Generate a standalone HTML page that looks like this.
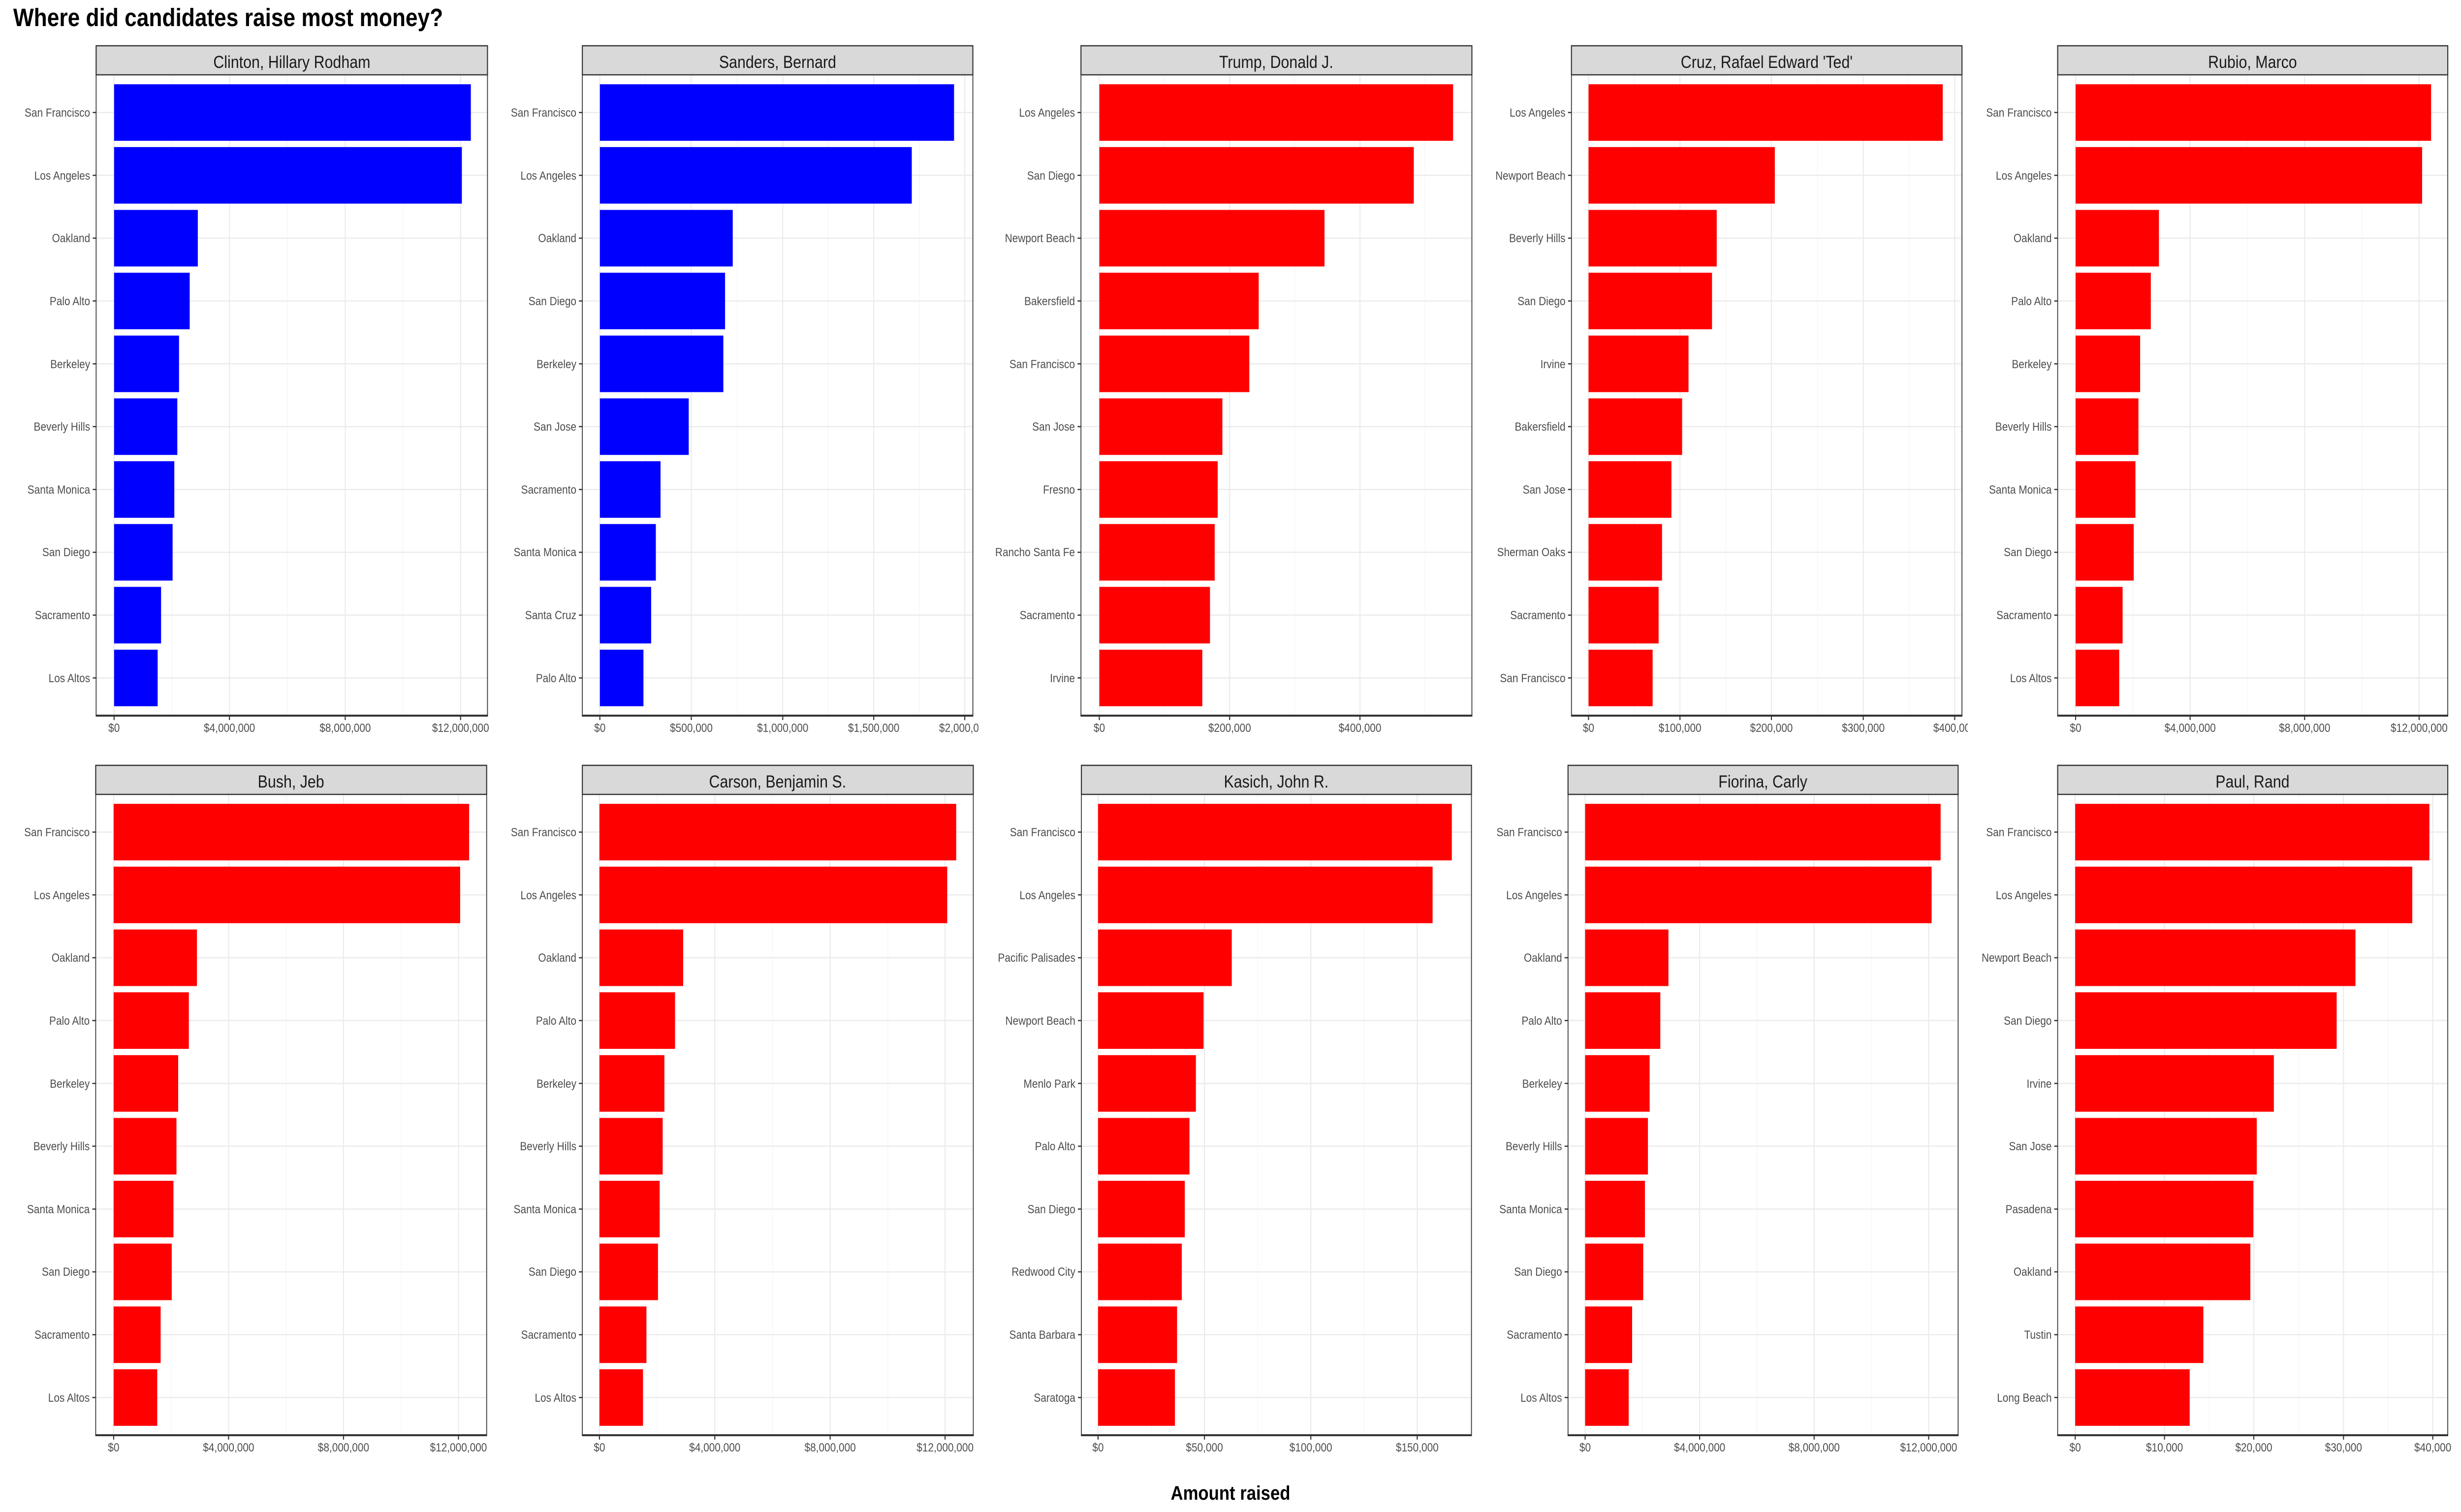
<!DOCTYPE html>
<html><head><meta charset="utf-8"><style>
html,body{margin:0;padding:0;background:#fff;overflow:hidden;width:100%;height:100%}
svg{display:block;width:100vw;height:100vh}
text{font-family:"Liberation Sans",Arial,sans-serif}
.yl{font-size:24px;fill:#4d4d4d;text-anchor:end}
.xl{font-size:24px;fill:#4d4d4d;text-anchor:middle}
.st{font-size:35px;fill:#1a1a1a;text-anchor:middle}
.gM{stroke:#ebebeb;stroke-width:2.5}
.gm{stroke:#f3f3f3;stroke-width:1.3}
.tk{stroke:#333;stroke-width:2.5}
.b{fill:#0000ff}.r{fill:#ff0000}
.strip{fill:#d9d9d9;stroke:#333;stroke-width:2.5}
.pb{fill:none;stroke:#333;stroke-width:2}
</style></head><body>
<svg viewBox="0 0 5760 3072" preserveAspectRatio="none" xmlns="http://www.w3.org/2000/svg">
<defs>
<clipPath id="cS"><rect x="1300" y="0" width="990" height="3072"/></clipPath>
<clipPath id="cC"><rect x="3600" y="0" width="1006" height="3072"/></clipPath>
</defs>
<text x="31" y="53" style="font-size:51px;font-weight:bold" fill="#000">Where did candidates raise most money?</text>
<text x="2880" y="3047" style="font-size:40px;font-weight:bold;text-anchor:middle" fill="#000">Amount raised</text>

<g>
<!-- Clinton -->
<g>
<line class="gm" x1="402" y1="152" x2="402" y2="1454"/><line class="gm" x1="672" y1="152" x2="672" y2="1454"/><line class="gm" x1="943" y1="152" x2="943" y2="1454"/>
<line class="gM" x1="267" y1="152" x2="267" y2="1454"/><line class="gM" x1="537" y1="152" x2="537" y2="1454"/><line class="gM" x1="808" y1="152" x2="808" y2="1454"/><line class="gM" x1="1078" y1="152" x2="1078" y2="1454"/>
<g class="gM"><line x1="225" x2="1141" y1="228.6" y2="228.6"/><line x1="225" x2="1141" y1="356.2" y2="356.2"/><line x1="225" x2="1141" y1="483.9" y2="483.9"/><line x1="225" x2="1141" y1="611.5" y2="611.5"/><line x1="225" x2="1141" y1="739.2" y2="739.2"/><line x1="225" x2="1141" y1="866.8" y2="866.8"/><line x1="225" x2="1141" y1="994.5" y2="994.5"/><line x1="225" x2="1141" y1="1122.1" y2="1122.1"/><line x1="225" x2="1141" y1="1249.8" y2="1249.8"/><line x1="225" x2="1141" y1="1377.4" y2="1377.4"/></g>
<g class="b"><rect x="267" y="171.2" width="835" height="114.9"/><rect x="267" y="298.8" width="814" height="114.9"/><rect x="267" y="426.5" width="196" height="114.9"/><rect x="267" y="554.1" width="177" height="114.9"/><rect x="267" y="681.8" width="152" height="114.9"/><rect x="267" y="809.4" width="148" height="114.9"/><rect x="267" y="937.1" width="141" height="114.9"/><rect x="267" y="1064.7" width="137" height="114.9"/><rect x="267" y="1192.4" width="110" height="114.9"/><rect x="267" y="1320" width="102" height="114.9"/></g>
<rect class="pb" x="225" y="152" width="916" height="1302"/><line class="tk" x1="224" x2="1142" y1="1454" y2="1454" style="stroke-width:4"/>
<rect class="strip" x="225" y="93" width="916" height="59"/><text class="st" x="683" y="138">Clinton, Hillary Rodham</text>
<g class="tk"><line x1="217" x2="225" y1="228.6" y2="228.6"/><line x1="217" x2="225" y1="356.2" y2="356.2"/><line x1="217" x2="225" y1="483.9" y2="483.9"/><line x1="217" x2="225" y1="611.5" y2="611.5"/><line x1="217" x2="225" y1="739.2" y2="739.2"/><line x1="217" x2="225" y1="866.8" y2="866.8"/><line x1="217" x2="225" y1="994.5" y2="994.5"/><line x1="217" x2="225" y1="1122.1" y2="1122.1"/><line x1="217" x2="225" y1="1249.8" y2="1249.8"/><line x1="217" x2="225" y1="1377.4" y2="1377.4"/>
<line x1="267" x2="267" y1="1454" y2="1463"/><line x1="537" x2="537" y1="1454" y2="1463"/><line x1="808" x2="808" y1="1454" y2="1463"/><line x1="1078" x2="1078" y1="1454" y2="1463"/></g>
<text class="yl" x="211" y="237">San Francisco</text><text class="yl" x="211" y="365">Los Angeles</text><text class="yl" x="211" y="492">Oakland</text><text class="yl" x="211" y="620">Palo Alto</text><text class="yl" x="211" y="748">Berkeley</text><text class="yl" x="211" y="875">Beverly Hills</text><text class="yl" x="211" y="1003">Santa Monica</text><text class="yl" x="211" y="1130">San Diego</text><text class="yl" x="211" y="1258">Sacramento</text><text class="yl" x="211" y="1386">Los Altos</text>
<text class="xl" x="267" y="1487">$0</text><text class="xl" x="537" y="1487">$4,000,000</text><text class="xl" x="808" y="1487">$8,000,000</text><text class="xl" x="1078" y="1487">$12,000,000</text>
</g>

<!-- Sanders -->
<g>
<line class="gm" x1="1511" y1="152" x2="1511" y2="1454"/><line class="gm" x1="1725" y1="152" x2="1725" y2="1454"/><line class="gm" x1="1938" y1="152" x2="1938" y2="1454"/><line class="gm" x1="2152" y1="152" x2="2152" y2="1454"/>
<line class="gM" x1="1404" y1="152" x2="1404" y2="1454"/><line class="gM" x1="1618" y1="152" x2="1618" y2="1454"/><line class="gM" x1="1832" y1="152" x2="1832" y2="1454"/><line class="gM" x1="2045" y1="152" x2="2045" y2="1454"/><line class="gM" x1="2258" y1="152" x2="2258" y2="1454"/>
<g class="gM"><line x1="1363" x2="2277" y1="228.6" y2="228.6"/><line x1="1363" x2="2277" y1="356.2" y2="356.2"/><line x1="1363" x2="2277" y1="483.9" y2="483.9"/><line x1="1363" x2="2277" y1="611.5" y2="611.5"/><line x1="1363" x2="2277" y1="739.2" y2="739.2"/><line x1="1363" x2="2277" y1="866.8" y2="866.8"/><line x1="1363" x2="2277" y1="994.5" y2="994.5"/><line x1="1363" x2="2277" y1="1122.1" y2="1122.1"/><line x1="1363" x2="2277" y1="1249.8" y2="1249.8"/><line x1="1363" x2="2277" y1="1377.4" y2="1377.4"/></g>
<g class="b"><rect x="1404" y="171.2" width="829" height="114.9"/><rect x="1404" y="298.8" width="730" height="114.9"/><rect x="1404" y="426.5" width="311" height="114.9"/><rect x="1404" y="554.1" width="293" height="114.9"/><rect x="1404" y="681.8" width="289" height="114.9"/><rect x="1404" y="809.4" width="208" height="114.9"/><rect x="1404" y="937.1" width="142" height="114.9"/><rect x="1404" y="1064.7" width="131" height="114.9"/><rect x="1404" y="1192.4" width="120" height="114.9"/><rect x="1404" y="1320" width="102" height="114.9"/></g>
<rect class="pb" x="1363" y="152" width="914" height="1302"/><line class="tk" x1="1362" x2="2278" y1="1454" y2="1454" style="stroke-width:4"/>
<rect class="strip" x="1363" y="93" width="914" height="59"/><text class="st" x="1820" y="138">Sanders, Bernard</text>
<g class="tk"><line x1="1355" x2="1363" y1="228.6" y2="228.6"/><line x1="1355" x2="1363" y1="356.2" y2="356.2"/><line x1="1355" x2="1363" y1="483.9" y2="483.9"/><line x1="1355" x2="1363" y1="611.5" y2="611.5"/><line x1="1355" x2="1363" y1="739.2" y2="739.2"/><line x1="1355" x2="1363" y1="866.8" y2="866.8"/><line x1="1355" x2="1363" y1="994.5" y2="994.5"/><line x1="1355" x2="1363" y1="1122.1" y2="1122.1"/><line x1="1355" x2="1363" y1="1249.8" y2="1249.8"/><line x1="1355" x2="1363" y1="1377.4" y2="1377.4"/>
<line x1="1404" x2="1404" y1="1454" y2="1463"/><line x1="1618" x2="1618" y1="1454" y2="1463"/><line x1="1832" x2="1832" y1="1454" y2="1463"/><line x1="2045" x2="2045" y1="1454" y2="1463"/><line x1="2258" x2="2258" y1="1454" y2="1463"/></g>
<text class="yl" x="1349" y="237">San Francisco</text><text class="yl" x="1349" y="365">Los Angeles</text><text class="yl" x="1349" y="492">Oakland</text><text class="yl" x="1349" y="620">San Diego</text><text class="yl" x="1349" y="748">Berkeley</text><text class="yl" x="1349" y="875">San Jose</text><text class="yl" x="1349" y="1003">Sacramento</text><text class="yl" x="1349" y="1130">Santa Monica</text><text class="yl" x="1349" y="1258">Santa Cruz</text><text class="yl" x="1349" y="1386">Palo Alto</text>
<g clip-path="url(#cS)"><text class="xl" x="1404" y="1487">$0</text><text class="xl" x="1618" y="1487">$500,000</text><text class="xl" x="1832" y="1487">$1,000,000</text><text class="xl" x="2045" y="1487">$1,500,000</text><text class="xl" x="2258" y="1487">$2,000,000</text></g>
</g>

<!-- Trump -->
<g>
<line class="gm" x1="2725" y1="152" x2="2725" y2="1454"/><line class="gm" x1="3030" y1="152" x2="3030" y2="1454"/><line class="gm" x1="3335" y1="152" x2="3335" y2="1454"/>
<line class="gM" x1="2573" y1="152" x2="2573" y2="1454"/><line class="gM" x1="2878" y1="152" x2="2878" y2="1454"/><line class="gM" x1="3183" y1="152" x2="3183" y2="1454"/>
<g class="gM"><line x1="2530" x2="3445" y1="228.6" y2="228.6"/><line x1="2530" x2="3445" y1="356.2" y2="356.2"/><line x1="2530" x2="3445" y1="483.9" y2="483.9"/><line x1="2530" x2="3445" y1="611.5" y2="611.5"/><line x1="2530" x2="3445" y1="739.2" y2="739.2"/><line x1="2530" x2="3445" y1="866.8" y2="866.8"/><line x1="2530" x2="3445" y1="994.5" y2="994.5"/><line x1="2530" x2="3445" y1="1122.1" y2="1122.1"/><line x1="2530" x2="3445" y1="1249.8" y2="1249.8"/><line x1="2530" x2="3445" y1="1377.4" y2="1377.4"/></g>
<g class="r"><rect x="2573" y="171.2" width="828" height="114.9"/><rect x="2573" y="298.8" width="736" height="114.9"/><rect x="2573" y="426.5" width="527" height="114.9"/><rect x="2573" y="554.1" width="373" height="114.9"/><rect x="2573" y="681.8" width="351" height="114.9"/><rect x="2573" y="809.4" width="288" height="114.9"/><rect x="2573" y="937.1" width="277" height="114.9"/><rect x="2573" y="1064.7" width="270" height="114.9"/><rect x="2573" y="1192.4" width="259" height="114.9"/><rect x="2573" y="1320" width="241" height="114.9"/></g>
<rect class="pb" x="2530" y="152" width="915" height="1302"/><line class="tk" x1="2529" x2="3446" y1="1454" y2="1454" style="stroke-width:4"/>
<rect class="strip" x="2530" y="93" width="915" height="59"/><text class="st" x="2987" y="138">Trump, Donald J.</text>
<g class="tk"><line x1="2522" x2="2530" y1="228.6" y2="228.6"/><line x1="2522" x2="2530" y1="356.2" y2="356.2"/><line x1="2522" x2="2530" y1="483.9" y2="483.9"/><line x1="2522" x2="2530" y1="611.5" y2="611.5"/><line x1="2522" x2="2530" y1="739.2" y2="739.2"/><line x1="2522" x2="2530" y1="866.8" y2="866.8"/><line x1="2522" x2="2530" y1="994.5" y2="994.5"/><line x1="2522" x2="2530" y1="1122.1" y2="1122.1"/><line x1="2522" x2="2530" y1="1249.8" y2="1249.8"/><line x1="2522" x2="2530" y1="1377.4" y2="1377.4"/>
<line x1="2573" x2="2573" y1="1454" y2="1463"/><line x1="2878" x2="2878" y1="1454" y2="1463"/><line x1="3183" x2="3183" y1="1454" y2="1463"/></g>
<text class="yl" x="2516" y="237">Los Angeles</text><text class="yl" x="2516" y="365">San Diego</text><text class="yl" x="2516" y="492">Newport Beach</text><text class="yl" x="2516" y="620">Bakersfield</text><text class="yl" x="2516" y="748">San Francisco</text><text class="yl" x="2516" y="875">San Jose</text><text class="yl" x="2516" y="1003">Fresno</text><text class="yl" x="2516" y="1130">Rancho Santa Fe</text><text class="yl" x="2516" y="1258">Sacramento</text><text class="yl" x="2516" y="1386">Irvine</text>
<text class="xl" x="2573" y="1487">$0</text><text class="xl" x="2878" y="1487">$200,000</text><text class="xl" x="3183" y="1487">$400,000</text>
</g>

<!-- Cruz -->
<g>
<line class="gm" x1="3825" y1="152" x2="3825" y2="1454"/><line class="gm" x1="4039" y1="152" x2="4039" y2="1454"/><line class="gm" x1="4254" y1="152" x2="4254" y2="1454"/><line class="gm" x1="4468" y1="152" x2="4468" y2="1454"/>
<line class="gM" x1="3718" y1="152" x2="3718" y2="1454"/><line class="gM" x1="3932" y1="152" x2="3932" y2="1454"/><line class="gM" x1="4146" y1="152" x2="4146" y2="1454"/><line class="gM" x1="4361" y1="152" x2="4361" y2="1454"/><line class="gM" x1="4575" y1="152" x2="4575" y2="1454"/>
<g class="gM"><line x1="3678" x2="4592" y1="228.6" y2="228.6"/><line x1="3678" x2="4592" y1="356.2" y2="356.2"/><line x1="3678" x2="4592" y1="483.9" y2="483.9"/><line x1="3678" x2="4592" y1="611.5" y2="611.5"/><line x1="3678" x2="4592" y1="739.2" y2="739.2"/><line x1="3678" x2="4592" y1="866.8" y2="866.8"/><line x1="3678" x2="4592" y1="994.5" y2="994.5"/><line x1="3678" x2="4592" y1="1122.1" y2="1122.1"/><line x1="3678" x2="4592" y1="1249.8" y2="1249.8"/><line x1="3678" x2="4592" y1="1377.4" y2="1377.4"/></g>
<g class="r"><rect x="3718" y="171.2" width="829" height="114.9"/><rect x="3718" y="298.8" width="436" height="114.9"/><rect x="3718" y="426.5" width="300" height="114.9"/><rect x="3718" y="554.1" width="289" height="114.9"/><rect x="3718" y="681.8" width="234" height="114.9"/><rect x="3718" y="809.4" width="219" height="114.9"/><rect x="3718" y="937.1" width="194" height="114.9"/><rect x="3718" y="1064.7" width="172" height="114.9"/><rect x="3718" y="1192.4" width="164" height="114.9"/><rect x="3718" y="1320" width="150" height="114.9"/></g>
<rect class="pb" x="3678" y="152" width="914" height="1302"/><line class="tk" x1="3677" x2="4593" y1="1454" y2="1454" style="stroke-width:4"/>
<rect class="strip" x="3678" y="93" width="914" height="59"/><text class="st" x="4135" y="138">Cruz, Rafael Edward 'Ted'</text>
<g class="tk"><line x1="3670" x2="3678" y1="228.6" y2="228.6"/><line x1="3670" x2="3678" y1="356.2" y2="356.2"/><line x1="3670" x2="3678" y1="483.9" y2="483.9"/><line x1="3670" x2="3678" y1="611.5" y2="611.5"/><line x1="3670" x2="3678" y1="739.2" y2="739.2"/><line x1="3670" x2="3678" y1="866.8" y2="866.8"/><line x1="3670" x2="3678" y1="994.5" y2="994.5"/><line x1="3670" x2="3678" y1="1122.1" y2="1122.1"/><line x1="3670" x2="3678" y1="1249.8" y2="1249.8"/><line x1="3670" x2="3678" y1="1377.4" y2="1377.4"/>
<line x1="3718" x2="3718" y1="1454" y2="1463"/><line x1="3932" x2="3932" y1="1454" y2="1463"/><line x1="4146" x2="4146" y1="1454" y2="1463"/><line x1="4361" x2="4361" y1="1454" y2="1463"/><line x1="4575" x2="4575" y1="1454" y2="1463"/></g>
<text class="yl" x="3664" y="237">Los Angeles</text><text class="yl" x="3664" y="365">Newport Beach</text><text class="yl" x="3664" y="492">Beverly Hills</text><text class="yl" x="3664" y="620">San Diego</text><text class="yl" x="3664" y="748">Irvine</text><text class="yl" x="3664" y="875">Bakersfield</text><text class="yl" x="3664" y="1003">San Jose</text><text class="yl" x="3664" y="1130">Sherman Oaks</text><text class="yl" x="3664" y="1258">Sacramento</text><text class="yl" x="3664" y="1386">San Francisco</text>
<g clip-path="url(#cC)"><text class="xl" x="3718" y="1487">$0</text><text class="xl" x="3932" y="1487">$100,000</text><text class="xl" x="4146" y="1487">$200,000</text><text class="xl" x="4361" y="1487">$300,000</text><text class="xl" x="4575" y="1487">$400,000</text></g>
</g>

<!-- Rubio -->
<g>
<line class="gm" x1="4992" y1="152" x2="4992" y2="1454"/><line class="gm" x1="5260" y1="152" x2="5260" y2="1454"/><line class="gm" x1="5528" y1="152" x2="5528" y2="1454"/>
<line class="gM" x1="4858" y1="152" x2="4858" y2="1454"/><line class="gM" x1="5126" y1="152" x2="5126" y2="1454"/><line class="gM" x1="5394" y1="152" x2="5394" y2="1454"/><line class="gM" x1="5662" y1="152" x2="5662" y2="1454"/>
<g class="gM"><line x1="4816" x2="5729" y1="228.6" y2="228.6"/><line x1="4816" x2="5729" y1="356.2" y2="356.2"/><line x1="4816" x2="5729" y1="483.9" y2="483.9"/><line x1="4816" x2="5729" y1="611.5" y2="611.5"/><line x1="4816" x2="5729" y1="739.2" y2="739.2"/><line x1="4816" x2="5729" y1="866.8" y2="866.8"/><line x1="4816" x2="5729" y1="994.5" y2="994.5"/><line x1="4816" x2="5729" y1="1122.1" y2="1122.1"/><line x1="4816" x2="5729" y1="1249.8" y2="1249.8"/><line x1="4816" x2="5729" y1="1377.4" y2="1377.4"/></g>
<g class="r"><rect x="4858" y="171.2" width="832" height="114.9"/><rect x="4858" y="298.8" width="811" height="114.9"/><rect x="4858" y="426.5" width="195" height="114.9"/><rect x="4858" y="554.1" width="176" height="114.9"/><rect x="4858" y="681.8" width="151" height="114.9"/><rect x="4858" y="809.4" width="147" height="114.9"/><rect x="4858" y="937.1" width="140" height="114.9"/><rect x="4858" y="1064.7" width="136" height="114.9"/><rect x="4858" y="1192.4" width="110" height="114.9"/><rect x="4858" y="1320" width="102" height="114.9"/></g>
<rect class="pb" x="4816" y="152" width="913" height="1302"/><line class="tk" x1="4815" x2="5730" y1="1454" y2="1454" style="stroke-width:4"/>
<rect class="strip" x="4816" y="93" width="913" height="59"/><text class="st" x="5272" y="138">Rubio, Marco</text>
<g class="tk"><line x1="4808" x2="4816" y1="228.6" y2="228.6"/><line x1="4808" x2="4816" y1="356.2" y2="356.2"/><line x1="4808" x2="4816" y1="483.9" y2="483.9"/><line x1="4808" x2="4816" y1="611.5" y2="611.5"/><line x1="4808" x2="4816" y1="739.2" y2="739.2"/><line x1="4808" x2="4816" y1="866.8" y2="866.8"/><line x1="4808" x2="4816" y1="994.5" y2="994.5"/><line x1="4808" x2="4816" y1="1122.1" y2="1122.1"/><line x1="4808" x2="4816" y1="1249.8" y2="1249.8"/><line x1="4808" x2="4816" y1="1377.4" y2="1377.4"/>
<line x1="4858" x2="4858" y1="1454" y2="1463"/><line x1="5126" x2="5126" y1="1454" y2="1463"/><line x1="5394" x2="5394" y1="1454" y2="1463"/><line x1="5662" x2="5662" y1="1454" y2="1463"/></g>
<text class="yl" x="4802" y="237">San Francisco</text><text class="yl" x="4802" y="365">Los Angeles</text><text class="yl" x="4802" y="492">Oakland</text><text class="yl" x="4802" y="620">Palo Alto</text><text class="yl" x="4802" y="748">Berkeley</text><text class="yl" x="4802" y="875">Beverly Hills</text><text class="yl" x="4802" y="1003">Santa Monica</text><text class="yl" x="4802" y="1130">San Diego</text><text class="yl" x="4802" y="1258">Sacramento</text><text class="yl" x="4802" y="1386">Los Altos</text>
<text class="xl" x="4858" y="1487">$0</text><text class="xl" x="5126" y="1487">$4,000,000</text><text class="xl" x="5394" y="1487">$8,000,000</text><text class="xl" x="5662" y="1487">$12,000,000</text>
</g>
</g>

<g transform="translate(0,1462)">
<!-- Bush -->
<g>
<line class="gm" x1="401" y1="152" x2="401" y2="1454"/><line class="gm" x1="670" y1="152" x2="670" y2="1454"/><line class="gm" x1="939" y1="152" x2="939" y2="1454"/>
<line class="gM" x1="266" y1="152" x2="266" y2="1454"/><line class="gM" x1="535" y1="152" x2="535" y2="1454"/><line class="gM" x1="804" y1="152" x2="804" y2="1454"/><line class="gM" x1="1073" y1="152" x2="1073" y2="1454"/>
<g class="gM"><line x1="224" x2="1139" y1="228.6" y2="228.6"/><line x1="224" x2="1139" y1="356.2" y2="356.2"/><line x1="224" x2="1139" y1="483.9" y2="483.9"/><line x1="224" x2="1139" y1="611.5" y2="611.5"/><line x1="224" x2="1139" y1="739.2" y2="739.2"/><line x1="224" x2="1139" y1="866.8" y2="866.8"/><line x1="224" x2="1139" y1="994.5" y2="994.5"/><line x1="224" x2="1139" y1="1122.1" y2="1122.1"/><line x1="224" x2="1139" y1="1249.8" y2="1249.8"/><line x1="224" x2="1139" y1="1377.4" y2="1377.4"/></g>
<g class="r"><rect x="266" y="171.2" width="832" height="114.9"/><rect x="266" y="298.8" width="811" height="114.9"/><rect x="266" y="426.5" width="195" height="114.9"/><rect x="266" y="554.1" width="176" height="114.9"/><rect x="266" y="681.8" width="151" height="114.9"/><rect x="266" y="809.4" width="147" height="114.9"/><rect x="266" y="937.1" width="140" height="114.9"/><rect x="266" y="1064.7" width="136" height="114.9"/><rect x="266" y="1192.4" width="110" height="114.9"/><rect x="266" y="1320" width="102" height="114.9"/></g>
<rect class="pb" x="224" y="152" width="915" height="1302"/><line class="tk" x1="223" x2="1140" y1="1454" y2="1454" style="stroke-width:4"/>
<rect class="strip" x="224" y="93" width="915" height="59"/><text class="st" x="681" y="138">Bush, Jeb</text>
<g class="tk"><line x1="216" x2="224" y1="228.6" y2="228.6"/><line x1="216" x2="224" y1="356.2" y2="356.2"/><line x1="216" x2="224" y1="483.9" y2="483.9"/><line x1="216" x2="224" y1="611.5" y2="611.5"/><line x1="216" x2="224" y1="739.2" y2="739.2"/><line x1="216" x2="224" y1="866.8" y2="866.8"/><line x1="216" x2="224" y1="994.5" y2="994.5"/><line x1="216" x2="224" y1="1122.1" y2="1122.1"/><line x1="216" x2="224" y1="1249.8" y2="1249.8"/><line x1="216" x2="224" y1="1377.4" y2="1377.4"/>
<line x1="266" x2="266" y1="1454" y2="1463"/><line x1="535" x2="535" y1="1454" y2="1463"/><line x1="804" x2="804" y1="1454" y2="1463"/><line x1="1073" x2="1073" y1="1454" y2="1463"/></g>
<text class="yl" x="210" y="237">San Francisco</text><text class="yl" x="210" y="365">Los Angeles</text><text class="yl" x="210" y="492">Oakland</text><text class="yl" x="210" y="620">Palo Alto</text><text class="yl" x="210" y="748">Berkeley</text><text class="yl" x="210" y="875">Beverly Hills</text><text class="yl" x="210" y="1003">Santa Monica</text><text class="yl" x="210" y="1130">San Diego</text><text class="yl" x="210" y="1258">Sacramento</text><text class="yl" x="210" y="1386">Los Altos</text>
<text class="xl" x="266" y="1487">$0</text><text class="xl" x="535" y="1487">$4,000,000</text><text class="xl" x="804" y="1487">$8,000,000</text><text class="xl" x="1073" y="1487">$12,000,000</text>
</g>

<!-- Carson -->
<g>
<line class="gm" x1="1538" y1="152" x2="1538" y2="1454"/><line class="gm" x1="1808" y1="152" x2="1808" y2="1454"/><line class="gm" x1="2078" y1="152" x2="2078" y2="1454"/>
<line class="gM" x1="1403" y1="152" x2="1403" y2="1454"/><line class="gM" x1="1673" y1="152" x2="1673" y2="1454"/><line class="gM" x1="1943" y1="152" x2="1943" y2="1454"/><line class="gM" x1="2212" y1="152" x2="2212" y2="1454"/>
<g class="gM"><line x1="1363" x2="2278" y1="228.6" y2="228.6"/><line x1="1363" x2="2278" y1="356.2" y2="356.2"/><line x1="1363" x2="2278" y1="483.9" y2="483.9"/><line x1="1363" x2="2278" y1="611.5" y2="611.5"/><line x1="1363" x2="2278" y1="739.2" y2="739.2"/><line x1="1363" x2="2278" y1="866.8" y2="866.8"/><line x1="1363" x2="2278" y1="994.5" y2="994.5"/><line x1="1363" x2="2278" y1="1122.1" y2="1122.1"/><line x1="1363" x2="2278" y1="1249.8" y2="1249.8"/><line x1="1363" x2="2278" y1="1377.4" y2="1377.4"/></g>
<g class="r"><rect x="1403" y="171.2" width="835" height="114.9"/><rect x="1403" y="298.8" width="814" height="114.9"/><rect x="1403" y="426.5" width="196" height="114.9"/><rect x="1403" y="554.1" width="177" height="114.9"/><rect x="1403" y="681.8" width="152" height="114.9"/><rect x="1403" y="809.4" width="148" height="114.9"/><rect x="1403" y="937.1" width="141" height="114.9"/><rect x="1403" y="1064.7" width="137" height="114.9"/><rect x="1403" y="1192.4" width="110" height="114.9"/><rect x="1403" y="1320" width="102" height="114.9"/></g>
<rect class="pb" x="1363" y="152" width="915" height="1302"/><line class="tk" x1="1362" x2="2279" y1="1454" y2="1454" style="stroke-width:4"/>
<rect class="strip" x="1363" y="93" width="915" height="59"/><text class="st" x="1820" y="138">Carson, Benjamin S.</text>
<g class="tk"><line x1="1355" x2="1363" y1="228.6" y2="228.6"/><line x1="1355" x2="1363" y1="356.2" y2="356.2"/><line x1="1355" x2="1363" y1="483.9" y2="483.9"/><line x1="1355" x2="1363" y1="611.5" y2="611.5"/><line x1="1355" x2="1363" y1="739.2" y2="739.2"/><line x1="1355" x2="1363" y1="866.8" y2="866.8"/><line x1="1355" x2="1363" y1="994.5" y2="994.5"/><line x1="1355" x2="1363" y1="1122.1" y2="1122.1"/><line x1="1355" x2="1363" y1="1249.8" y2="1249.8"/><line x1="1355" x2="1363" y1="1377.4" y2="1377.4"/>
<line x1="1403" x2="1403" y1="1454" y2="1463"/><line x1="1673" x2="1673" y1="1454" y2="1463"/><line x1="1943" x2="1943" y1="1454" y2="1463"/><line x1="2212" x2="2212" y1="1454" y2="1463"/></g>
<text class="yl" x="1349" y="237">San Francisco</text><text class="yl" x="1349" y="365">Los Angeles</text><text class="yl" x="1349" y="492">Oakland</text><text class="yl" x="1349" y="620">Palo Alto</text><text class="yl" x="1349" y="748">Berkeley</text><text class="yl" x="1349" y="875">Beverly Hills</text><text class="yl" x="1349" y="1003">Santa Monica</text><text class="yl" x="1349" y="1130">San Diego</text><text class="yl" x="1349" y="1258">Sacramento</text><text class="yl" x="1349" y="1386">Los Altos</text>
<text class="xl" x="1403" y="1487">$0</text><text class="xl" x="1673" y="1487">$4,000,000</text><text class="xl" x="1943" y="1487">$8,000,000</text><text class="xl" x="2212" y="1487">$12,000,000</text>
</g>

<!-- Kasich -->
<g>
<line class="gm" x1="2694.5" y1="152" x2="2694.5" y2="1454"/><line class="gm" x1="2943.5" y1="152" x2="2943.5" y2="1454"/><line class="gm" x1="3192.5" y1="152" x2="3192.5" y2="1454"/><line class="gm" x1="3441" y1="152" x2="3441" y2="1454"/>
<line class="gM" x1="2570" y1="152" x2="2570" y2="1454"/><line class="gM" x1="2819" y1="152" x2="2819" y2="1454"/><line class="gM" x1="3068" y1="152" x2="3068" y2="1454"/><line class="gM" x1="3317" y1="152" x2="3317" y2="1454"/>
<g class="gM"><line x1="2531" x2="3444" y1="228.6" y2="228.6"/><line x1="2531" x2="3444" y1="356.2" y2="356.2"/><line x1="2531" x2="3444" y1="483.9" y2="483.9"/><line x1="2531" x2="3444" y1="611.5" y2="611.5"/><line x1="2531" x2="3444" y1="739.2" y2="739.2"/><line x1="2531" x2="3444" y1="866.8" y2="866.8"/><line x1="2531" x2="3444" y1="994.5" y2="994.5"/><line x1="2531" x2="3444" y1="1122.1" y2="1122.1"/><line x1="2531" x2="3444" y1="1249.8" y2="1249.8"/><line x1="2531" x2="3444" y1="1377.4" y2="1377.4"/></g>
<g class="r"><rect x="2570" y="171.2" width="828" height="114.9"/><rect x="2570" y="298.8" width="783" height="114.9"/><rect x="2570" y="426.5" width="313" height="114.9"/><rect x="2570" y="554.1" width="247" height="114.9"/><rect x="2570" y="681.8" width="229" height="114.9"/><rect x="2570" y="809.4" width="214" height="114.9"/><rect x="2570" y="937.1" width="203" height="114.9"/><rect x="2570" y="1064.7" width="196" height="114.9"/><rect x="2570" y="1192.4" width="185" height="114.9"/><rect x="2570" y="1320" width="180" height="114.9"/></g>
<rect class="pb" x="2531" y="152" width="913" height="1302"/><line class="tk" x1="2530" x2="3445" y1="1454" y2="1454" style="stroke-width:4"/>
<rect class="strip" x="2531" y="93" width="913" height="59"/><text class="st" x="2987" y="138">Kasich, John R.</text>
<g class="tk"><line x1="2523" x2="2531" y1="228.6" y2="228.6"/><line x1="2523" x2="2531" y1="356.2" y2="356.2"/><line x1="2523" x2="2531" y1="483.9" y2="483.9"/><line x1="2523" x2="2531" y1="611.5" y2="611.5"/><line x1="2523" x2="2531" y1="739.2" y2="739.2"/><line x1="2523" x2="2531" y1="866.8" y2="866.8"/><line x1="2523" x2="2531" y1="994.5" y2="994.5"/><line x1="2523" x2="2531" y1="1122.1" y2="1122.1"/><line x1="2523" x2="2531" y1="1249.8" y2="1249.8"/><line x1="2523" x2="2531" y1="1377.4" y2="1377.4"/>
<line x1="2570" x2="2570" y1="1454" y2="1463"/><line x1="2819" x2="2819" y1="1454" y2="1463"/><line x1="3068" x2="3068" y1="1454" y2="1463"/><line x1="3317" x2="3317" y1="1454" y2="1463"/></g>
<text class="yl" x="2517" y="237">San Francisco</text><text class="yl" x="2517" y="365">Los Angeles</text><text class="yl" x="2517" y="492">Pacific Palisades</text><text class="yl" x="2517" y="620">Newport Beach</text><text class="yl" x="2517" y="748">Menlo Park</text><text class="yl" x="2517" y="875">Palo Alto</text><text class="yl" x="2517" y="1003">San Diego</text><text class="yl" x="2517" y="1130">Redwood City</text><text class="yl" x="2517" y="1258">Santa Barbara</text><text class="yl" x="2517" y="1386">Saratoga</text>
<text class="xl" x="2570" y="1487">$0</text><text class="xl" x="2819" y="1487">$50,000</text><text class="xl" x="3068" y="1487">$100,000</text><text class="xl" x="3317" y="1487">$150,000</text>
</g>

<!-- Fiorina -->
<g>
<line class="gm" x1="3844" y1="152" x2="3844" y2="1454"/><line class="gm" x1="4112" y1="152" x2="4112" y2="1454"/><line class="gm" x1="4380" y1="152" x2="4380" y2="1454"/>
<line class="gM" x1="3710" y1="152" x2="3710" y2="1454"/><line class="gM" x1="3978" y1="152" x2="3978" y2="1454"/><line class="gM" x1="4246" y1="152" x2="4246" y2="1454"/><line class="gM" x1="4514" y1="152" x2="4514" y2="1454"/>
<g class="gM"><line x1="3670" x2="4583" y1="228.6" y2="228.6"/><line x1="3670" x2="4583" y1="356.2" y2="356.2"/><line x1="3670" x2="4583" y1="483.9" y2="483.9"/><line x1="3670" x2="4583" y1="611.5" y2="611.5"/><line x1="3670" x2="4583" y1="739.2" y2="739.2"/><line x1="3670" x2="4583" y1="866.8" y2="866.8"/><line x1="3670" x2="4583" y1="994.5" y2="994.5"/><line x1="3670" x2="4583" y1="1122.1" y2="1122.1"/><line x1="3670" x2="4583" y1="1249.8" y2="1249.8"/><line x1="3670" x2="4583" y1="1377.4" y2="1377.4"/></g>
<g class="r"><rect x="3710" y="171.2" width="832" height="114.9"/><rect x="3710" y="298.8" width="811" height="114.9"/><rect x="3710" y="426.5" width="195" height="114.9"/><rect x="3710" y="554.1" width="176" height="114.9"/><rect x="3710" y="681.8" width="151" height="114.9"/><rect x="3710" y="809.4" width="147" height="114.9"/><rect x="3710" y="937.1" width="140" height="114.9"/><rect x="3710" y="1064.7" width="136" height="114.9"/><rect x="3710" y="1192.4" width="110" height="114.9"/><rect x="3710" y="1320" width="102" height="114.9"/></g>
<rect class="pb" x="3670" y="152" width="913" height="1302"/><line class="tk" x1="3669" x2="4584" y1="1454" y2="1454" style="stroke-width:4"/>
<rect class="strip" x="3670" y="93" width="913" height="59"/><text class="st" x="4126" y="138">Fiorina, Carly</text>
<g class="tk"><line x1="3662" x2="3670" y1="228.6" y2="228.6"/><line x1="3662" x2="3670" y1="356.2" y2="356.2"/><line x1="3662" x2="3670" y1="483.9" y2="483.9"/><line x1="3662" x2="3670" y1="611.5" y2="611.5"/><line x1="3662" x2="3670" y1="739.2" y2="739.2"/><line x1="3662" x2="3670" y1="866.8" y2="866.8"/><line x1="3662" x2="3670" y1="994.5" y2="994.5"/><line x1="3662" x2="3670" y1="1122.1" y2="1122.1"/><line x1="3662" x2="3670" y1="1249.8" y2="1249.8"/><line x1="3662" x2="3670" y1="1377.4" y2="1377.4"/>
<line x1="3710" x2="3710" y1="1454" y2="1463"/><line x1="3978" x2="3978" y1="1454" y2="1463"/><line x1="4246" x2="4246" y1="1454" y2="1463"/><line x1="4514" x2="4514" y1="1454" y2="1463"/></g>
<text class="yl" x="3656" y="237">San Francisco</text><text class="yl" x="3656" y="365">Los Angeles</text><text class="yl" x="3656" y="492">Oakland</text><text class="yl" x="3656" y="620">Palo Alto</text><text class="yl" x="3656" y="748">Berkeley</text><text class="yl" x="3656" y="875">Beverly Hills</text><text class="yl" x="3656" y="1003">Santa Monica</text><text class="yl" x="3656" y="1130">San Diego</text><text class="yl" x="3656" y="1258">Sacramento</text><text class="yl" x="3656" y="1386">Los Altos</text>
<text class="xl" x="3710" y="1487">$0</text><text class="xl" x="3978" y="1487">$4,000,000</text><text class="xl" x="4246" y="1487">$8,000,000</text><text class="xl" x="4514" y="1487">$12,000,000</text>
</g>

<!-- Paul -->
<g>
<line class="gm" x1="4961.5" y1="152" x2="4961.5" y2="1454"/><line class="gm" x1="5170.5" y1="152" x2="5170.5" y2="1454"/><line class="gm" x1="5380" y1="152" x2="5380" y2="1454"/><line class="gm" x1="5589.5" y1="152" x2="5589.5" y2="1454"/>
<line class="gM" x1="4857" y1="152" x2="4857" y2="1454"/><line class="gM" x1="5066" y1="152" x2="5066" y2="1454"/><line class="gM" x1="5275" y1="152" x2="5275" y2="1454"/><line class="gM" x1="5485" y1="152" x2="5485" y2="1454"/><line class="gM" x1="5694" y1="152" x2="5694" y2="1454"/>
<g class="gM"><line x1="4816" x2="5729" y1="228.6" y2="228.6"/><line x1="4816" x2="5729" y1="356.2" y2="356.2"/><line x1="4816" x2="5729" y1="483.9" y2="483.9"/><line x1="4816" x2="5729" y1="611.5" y2="611.5"/><line x1="4816" x2="5729" y1="739.2" y2="739.2"/><line x1="4816" x2="5729" y1="866.8" y2="866.8"/><line x1="4816" x2="5729" y1="994.5" y2="994.5"/><line x1="4816" x2="5729" y1="1122.1" y2="1122.1"/><line x1="4816" x2="5729" y1="1249.8" y2="1249.8"/><line x1="4816" x2="5729" y1="1377.4" y2="1377.4"/></g>
<g class="r"><rect x="4857" y="171.2" width="829" height="114.9"/><rect x="4857" y="298.8" width="789" height="114.9"/><rect x="4857" y="426.5" width="656" height="114.9"/><rect x="4857" y="554.1" width="612" height="114.9"/><rect x="4857" y="681.8" width="465" height="114.9"/><rect x="4857" y="809.4" width="425" height="114.9"/><rect x="4857" y="937.1" width="417" height="114.9"/><rect x="4857" y="1064.7" width="410" height="114.9"/><rect x="4857" y="1192.4" width="300" height="114.9"/><rect x="4857" y="1320" width="268" height="114.9"/></g>
<rect class="pb" x="4816" y="152" width="913" height="1302"/><line class="tk" x1="4815" x2="5730" y1="1454" y2="1454" style="stroke-width:4"/>
<rect class="strip" x="4816" y="93" width="913" height="59"/><text class="st" x="5272" y="138">Paul, Rand</text>
<g class="tk"><line x1="4808" x2="4816" y1="228.6" y2="228.6"/><line x1="4808" x2="4816" y1="356.2" y2="356.2"/><line x1="4808" x2="4816" y1="483.9" y2="483.9"/><line x1="4808" x2="4816" y1="611.5" y2="611.5"/><line x1="4808" x2="4816" y1="739.2" y2="739.2"/><line x1="4808" x2="4816" y1="866.8" y2="866.8"/><line x1="4808" x2="4816" y1="994.5" y2="994.5"/><line x1="4808" x2="4816" y1="1122.1" y2="1122.1"/><line x1="4808" x2="4816" y1="1249.8" y2="1249.8"/><line x1="4808" x2="4816" y1="1377.4" y2="1377.4"/>
<line x1="4857" x2="4857" y1="1454" y2="1463"/><line x1="5066" x2="5066" y1="1454" y2="1463"/><line x1="5275" x2="5275" y1="1454" y2="1463"/><line x1="5485" x2="5485" y1="1454" y2="1463"/><line x1="5694" x2="5694" y1="1454" y2="1463"/></g>
<text class="yl" x="4802" y="237">San Francisco</text><text class="yl" x="4802" y="365">Los Angeles</text><text class="yl" x="4802" y="492">Newport Beach</text><text class="yl" x="4802" y="620">San Diego</text><text class="yl" x="4802" y="748">Irvine</text><text class="yl" x="4802" y="875">San Jose</text><text class="yl" x="4802" y="1003">Pasadena</text><text class="yl" x="4802" y="1130">Oakland</text><text class="yl" x="4802" y="1258">Tustin</text><text class="yl" x="4802" y="1386">Long Beach</text>
<text class="xl" x="4857" y="1487">$0</text><text class="xl" x="5066" y="1487">$10,000</text><text class="xl" x="5275" y="1487">$20,000</text><text class="xl" x="5485" y="1487">$30,000</text><text class="xl" x="5694" y="1487">$40,000</text>
</g>
</g>
</svg>
</body></html>
